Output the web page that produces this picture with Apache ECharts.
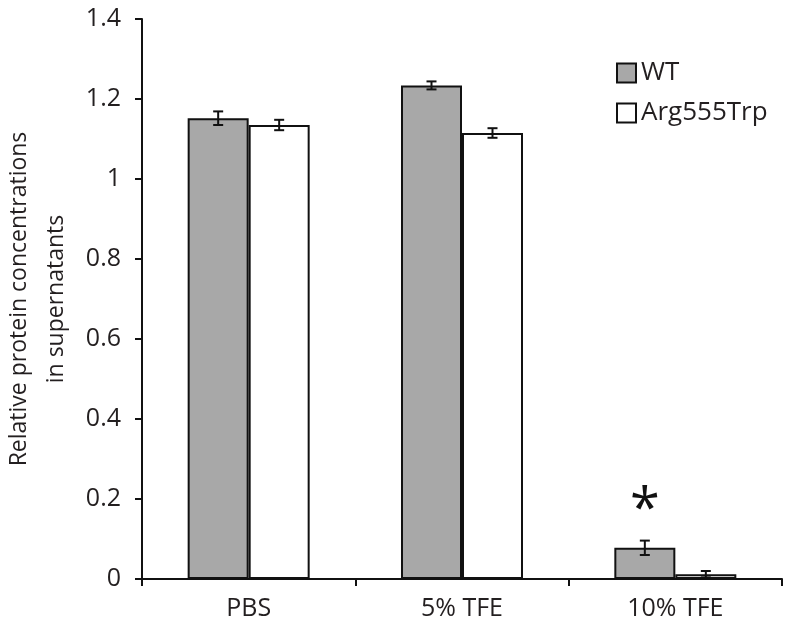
<!DOCTYPE html>
<html><head><meta charset="utf-8">
<script src="https://cdn.jsdelivr.net/npm/echarts@6/dist/echarts.min.js"></script>
<style>html,body{margin:0;padding:0;background:#fff}#c{width:800px;height:633px}</style>
</head><body><div id="c"></div>
<script>
var categories = ['PBS', '5% TFE', '10% TFE'];
var wtValues = [1.152, 1.234, 0.078];
var wtErrors = [0.017, 0.010, 0.018];
var mutValues = [1.135, 1.115, 0.012];
var mutErrors = [0.013, 0.012, 0.008];
var seriesNames = ['WT', 'Arg555Trp'];
var yTicks = [0, 0.2, 0.4, 0.6, 0.8, 1, 1.2, 1.4];
var annotations = ['', '', '*'];

var FONT = 'Open Sans';
var BARW = 61;
var chart = echarts.init(document.getElementById('c'));

function errorSeries(vals, errs, offset) {
  return {
    type: 'custom',
    z: 10,
    data: vals.map(function (v, i) { return [i, v, errs[i]]; }),
    renderItem: function (params, api) {
      var i = api.value(0), v = api.value(1), e = api.value(2);
      var hi = api.coord([i, v + e]);
      var lo = api.coord([i, v - e]);
      var x = hi[0] + offset;
      var cap = 5;
      var st = { stroke: '#111', lineWidth: 2 };
      return { type: 'group', children: [
        { type: 'line', shape: { x1: x, y1: hi[1], x2: x, y2: lo[1] }, style: st },
        { type: 'line', shape: { x1: x - cap, y1: hi[1], x2: x + cap, y2: hi[1] }, style: st },
        { type: 'line', shape: { x1: x - cap, y1: lo[1], x2: x + cap, y2: lo[1] }, style: st }
      ]};
    }
  };
}

chart.setOption({
  animation: false,
  textStyle: { fontFamily: FONT, color: '#231f20' },
  grid: { left: 142, right: 18, top: 19, bottom: 54, containLabel: false, outerBoundsMode: 'none' },
  legend: {
    orient: 'vertical', left: 611, top: 55, itemGap: 14,
    itemWidth: 19, itemHeight: 19, icon: 'rect',
    textStyle: { fontSize: 26, lineHeight: 26, fontFamily: FONT, color: '#231f20' },
    data: seriesNames
  },
  xAxis: {
    type: 'category', data: categories,
    axisLine: { lineStyle: { color: '#111', width: 2 } },
    axisTick: { show: true, length: 7, lineStyle: { color: '#111', width: 2 } },
    axisLabel: { fontSize: 25, color: '#231f20', margin: 17, fontFamily: FONT }
  },
  yAxis: {
    type: 'value', min: 0, max: 1.4, interval: 0.2,
    name: 'Relative protein concentrations\nin supernatants',
    nameLocation: 'middle', nameGap: 60, nameRotate: 90,
    nameTextStyle: { fontSize: 23, color: '#231f20', lineHeight: 37, fontFamily: FONT },
    axisLine: { show: true, lineStyle: { color: '#111', width: 2 } },
    axisTick: { show: true, length: 7, lineStyle: { color: '#111', width: 2 } },
    axisLabel: { fontSize: 25, color: '#231f20', margin: 21, fontFamily: FONT,
      formatter: function (v) { return String(Math.round(v * 10) / 10); } },
    splitLine: { show: false }
  },
  series: [
    { name: seriesNames[0], type: 'bar', barWidth: BARW, barGap: '0%',
      itemStyle: { color: '#a8a8a8', borderColor: '#111', borderWidth: 2 },
      label: { show: true, position: 'top', distance: 9, fontSize: 54, color: '#111',
        formatter: function (p) { return annotations[p.dataIndex]; } },
      data: wtValues },
    { name: seriesNames[1], type: 'bar', barWidth: BARW, barGap: '0%',
      itemStyle: { color: '#ffffff', borderColor: '#111', borderWidth: 2 },
      data: mutValues },
    errorSeries(wtValues, wtErrors, -BARW / 2),
    errorSeries(mutValues, mutErrors, BARW / 2)
  ]
});
</script></body></html>
